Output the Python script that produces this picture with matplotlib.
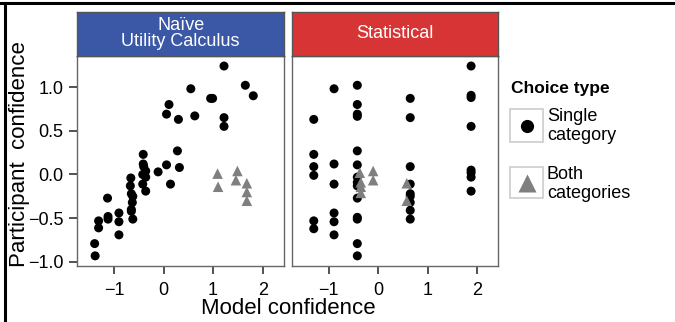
import matplotlib
matplotlib.use("Agg")
import matplotlib.pyplot as plt
from matplotlib.lines import Line2D
from matplotlib.patches import Rectangle

plt.rcParams["font.family"] = ["Liberation Sans", "DejaVu Sans"]

# ----------------------------------------------------------------------
# Data (model confidence vs participant confidence)
# ----------------------------------------------------------------------
panel_titles = ["Naïve\nUtility Calculus", "Statistical"]
strip_colors = ["#3b58a6", "#d73535"]
legend_labels = ["Single\ncategory", "Both\ncategories"]

naive_single_model = [1.22, 0.55, 1.65, 1.81, 0.95, 0.99, 0.11, 0.06, 0.30, 0.63,
                      1.22, 1.22, 0.28, 0.32, 0.06, -0.11, 0.14, -0.41, -0.41, -0.40,
                      -0.36, -0.42, -0.36, -0.42, -0.36, -0.66, -0.67, -0.65, -0.62, -0.63,
                      -0.65, -0.65, -0.62, -1.13, -1.12, -1.12, -0.90, -0.90, -0.90, -1.31,
                      -1.31, -1.39, -1.38]
naive_single_part = [1.24, 0.98, 1.02, 0.90, 0.87, 0.87, 0.80, 0.69, 0.63, 0.67,
                     0.65, 0.55, 0.27, 0.08, 0.11, 0.03, -0.11, 0.23, 0.12, 0.09,
                     0.04, 0.00, -0.03, -0.11, -0.19, -0.04, -0.13, -0.22, -0.25, -0.32,
                     -0.40, -0.42, -0.51, -0.27, -0.48, -0.51, -0.44, -0.54, -0.69, -0.53,
                     -0.61, -0.79, -0.93]
naive_both_model = [1.09, 1.10, 1.49, 1.46, 1.68, 1.68, 1.68]
naive_both_part = [0.01, -0.14, 0.04, -0.065, -0.10, -0.20, -0.30]

stat_single_model = ([-1.30] * 6 + [-0.89] * 6 + [-0.42] * 14 + [0.65] * 9 + [1.88] * 8)
stat_single_part = [0.63, 0.23, 0.09, -0.01, -0.53, -0.62,
                    0.98, 0.12, -0.11, -0.44, -0.54, -0.69,
                    1.02, 0.80, 0.69, 0.665, 0.27, 0.11, -0.03, -0.09, -0.13, -0.27,
                    -0.49, -0.51, -0.79, -0.93,
                    0.87, 0.65, 0.09, -0.11, -0.22, -0.25, -0.32, -0.41, -0.51,
                    1.24, 0.905, 0.88, 0.55, 0.05, 0.02, -0.03, -0.19]
stat_both_model = [-0.37, -0.35, -0.35, -0.35, -0.10, -0.10, 0.58, 0.58]
stat_both_part = [0.02, -0.09, -0.14, -0.21, 0.04, -0.065, -0.10, -0.30]

panels = [
    (naive_single_model, naive_single_part, naive_both_model, naive_both_part),
    (stat_single_model, stat_single_part, stat_both_model, stat_both_part),
]

# ----------------------------------------------------------------------
# Figure
# ----------------------------------------------------------------------
W, H = 675, 322
fig = plt.figure(figsize=(W / 100, H / 100), dpi=100)


def box(x0, y0, x1, y1):
    """pixel box (top-left origin) -> figure fraction rect"""
    return [x0 / W, 1 - y1 / H, (x1 - x0) / W, (y1 - y0) / H]


panel_x = [(77.3, 284.0), (292.0, 498.3)]
for i, ((x0, x1), title, col, data) in enumerate(zip(panel_x, panel_titles, strip_colors, panels)):
    ax = fig.add_axes(box(x0, 55.7, x1, 266))
    sm, sp, bm, bp = data
    ax.scatter(sm, sp, s=42, color="black", edgecolors="none", zorder=3)
    ax.scatter(bm, bp, s=58, marker="^", color="#7f7f7f", edgecolors="none", zorder=4)
    ax.set_xlim(-1.74, 2.43)
    ax.set_ylim(-1.046, 1.358)
    ax.set_xticks([-1, 0, 1, 2])
    ax.set_yticks([-1.0, -0.5, 0.0, 0.5, 1.0])
    ax.tick_params(direction="out", length=5.5, width=1.2, color="#333333",
                   labelsize=13, pad=4.3)
    ax.tick_params(axis="x", pad=6.3)
    if i == 1:
        ax.tick_params(axis="y", left=False, labelleft=False)
    for s in ax.spines.values():
        s.set_color("#666666")
        s.set_linewidth(1.0)

    # facet strip
    st = fig.add_axes(box(x0, 11.7, x1, 55.7))
    st.set_facecolor(col)
    st.set_xticks([])
    st.set_yticks([])
    for s in st.spines.values():
        s.set_color("#555555")
        s.set_linewidth(1.0)
    st.text(0.5, 0.5, title, color="white", fontsize=13, ha="center", va="center",
            linespacing=0.95, transform=st.transAxes)

fig.text(19.5 / W, 1 - 154.5 / H, "Participant  confidence", rotation=90,
         ha="center", va="center", fontsize=16)
fig.text(288.5 / W, 1 - 314.5 / H, "Model confidence", ha="center", va="baseline",
         fontsize=16)

# ----------------------------------------------------------------------
# Legend (drawn in pixel coordinates)
# ----------------------------------------------------------------------
lg = fig.add_axes(box(505, 70, 675, 210))
lg.set_xlim(505, 675)
lg.set_ylim(210, 70)
lg.axis("off")
lg.text(511, 88, "Choice type", fontsize=12.5, fontweight="bold", ha="left", va="center")
lg.add_patch(Rectangle((510, 109), 33, 33, facecolor="white", edgecolor="#cccccc", lw=1.2))
lg.add_patch(Rectangle((510, 167), 33, 31, facecolor="white", edgecolor="#cccccc", lw=1.2))
lg.plot([526.5], [125.5], "o", color="black", ms=9.5, mec="none")
lg.plot([526.5], [183], "^", color="#7f7f7f", ms=12.5, mec="none")
lg.text(547, 126, legend_labels[0], fontsize=13, ha="left", va="center", linespacing=1.1)
lg.text(547, 184, legend_labels[1], fontsize=13, ha="left", va="center", linespacing=1.1)

# outer frame lines of the source figure
fig.add_artist(Line2D([0, 1], [1 - 3 / H, 1 - 3 / H], color="black", lw=2.2))
fig.add_artist(Line2D([5 / W, 5 / W], [0, 1 - 3 / H], color="black", lw=2.2))

fig.savefig("out.png", dpi=100)
